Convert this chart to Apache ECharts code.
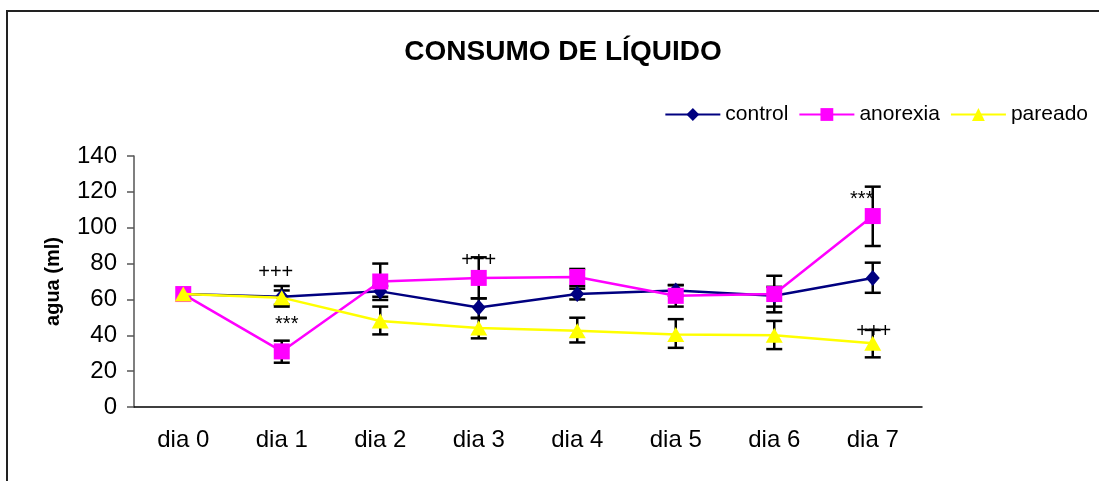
<!DOCTYPE html>
<html>
<head>
<meta charset="utf-8">
<script src="https://cdn.jsdelivr.net/npm/echarts@6/dist/echarts.min.js"></script>
<style>
  html, body { margin: 0; padding: 0; background: #fff; }
  #chart { width: 1099px; height: 481px; }
</style>
</head>
<body>
<div id="chart"></div>
<script>
// categorias (dias)
const dias = ["dia 0", "dia 1", "dia 2", "dia 3", "dia 4", "dia 5", "dia 6", "dia 7"];

// valores medios
const control = [63, 61.5, 64.5, 55.5, 63, 65, 62, 72];
const anorexia = [63, 31, 70, 72, 72.5, 62, 63, 106.5];
const pareado = [63, 61, 48, 44, 42.5, 40.5, 40, 35.5];

// barras de error [min, max]
const controlErr = [null, [56, 67.5], [61.5, 67.5], [49.8, 60.6], [60, 66], [62, 68], [56, 67], [63.7, 80.5]];
const anorexiaErr = [null, [24.7, 37], [59.7, 80], [60.6, 83.5], [67.5, 77], [56, 68], [52.8, 73.2], [89.8, 122.9]];
const pareadoErr = [null, [57, 65], [40.5, 56], [38.3, 49.5], [36, 49.8], [33, 49], [32.3, 48], [27.7, 43]];

// anotaciones de significancia [dia, valor, texto]
const anotaciones = [
  [1, 75, "+++"],
  [1, 46, "***"],
  [3, 82, "+++"],
  [7, 116, "***"],
  [7, 42, "+++"]
];
const anotDx = [-6, 5, 0, -11, 1]; // pequeño desplazamiento horizontal

const yTicks = { min: 0, max: 140, interval: 20 };

const chart = echarts.init(document.getElementById("chart"));

// serie custom para dibujar las barras de error
function errorSeries(err, name) {
  const data = [];
  err.forEach((e, i) => {
    if (e) data.push([i, e[0], e[1]]);
  });
  return {
    type: "custom",
    name: name + "-err",
    z: 1,
    silent: true,
    data: data,
    renderItem: (params, api) => {
      const lo = api.coord([api.value(0), api.value(1)]);
      const hi = api.coord([api.value(0), api.value(2)]);
      const hw = 8;
      const style = { stroke: "#000", lineWidth: 2.5 };
      return {
        type: "group",
        children: [
          { type: "line", shape: { x1: lo[0], y1: lo[1], x2: hi[0], y2: hi[1] }, style },
          { type: "line", shape: { x1: lo[0] - hw, y1: lo[1], x2: lo[0] + hw, y2: lo[1] }, style },
          { type: "line", shape: { x1: hi[0] - hw, y1: hi[1], x2: hi[0] + hw, y2: hi[1] }, style }
        ]
      };
    }
  };
}

const option = {
  animation: false,
  textStyle: { fontFamily: "Liberation Sans, Arial, sans-serif" },
  graphic: [
    {
      type: "rect",
      shape: { x: 7, y: 11, width: 1300, height: 700 },
      style: { fill: "none", stroke: "#222", lineWidth: 2 },
      silent: true,
      z: -10
    }
  ],
  title: {
    text: "CONSUMO DE LÍQUIDO",
    left: 558,
    top: 33,
    textAlign: "center",
    textStyle: { fontSize: 28, fontWeight: "bold", color: "#000", fontFamily: "Liberation Sans, Arial, sans-serif" }
  },
  legend: {
    data: ["control", "anorexia", "pareado"],
    right: 6,
    top: 99,
    itemWidth: 55,
    itemHeight: 16,
    itemGap: 10,
    textStyle: { fontSize: 21, color: "#000", fontFamily: "Liberation Sans, Arial, sans-serif" }
  },
  grid: { left: 134, right: 177, top: 156, bottom: 74 },
  xAxis: {
    type: "category",
    data: dias,
    axisLine: { lineStyle: { color: "#000", width: 1.5 } },
    axisTick: { length: 7, lineStyle: { color: "#000", width: 1.5 } },
    axisLabel: { fontSize: 24, color: "#000", margin: 21 }
  },
  yAxis: {
    type: "value",
    min: yTicks.min,
    max: yTicks.max,
    interval: yTicks.interval,
    name: "agua (ml)",
    nameLocation: "middle",
    nameRotate: 90,
    nameGap: 71,
    nameMoveOverlap: false,
    nameTextStyle: { fontSize: 20, fontWeight: "bold", color: "#000" },
    splitLine: { show: false },
    axisLine: { show: true, lineStyle: { color: "#555", width: 1.5 } },
    axisTick: { show: true, length: 7, lineStyle: { color: "#555", width: 1.5 } },
    axisLabel: { fontSize: 24, color: "#000", margin: 17 }
  },
  series: [
    errorSeries(controlErr, "control"),
    errorSeries(anorexiaErr, "anorexia"),
    errorSeries(pareadoErr, "pareado"),
    {
      name: "control",
      type: "line",
      data: control,
      z: 3,
      symbol: "diamond",
      symbolSize: [14, 16],
      lineStyle: { color: "#000080", width: 2.5 },
      itemStyle: { color: "#000080" }
    },
    {
      name: "anorexia",
      type: "line",
      data: anorexia,
      z: 4,
      symbol: "rect",
      symbolSize: 16,
      lineStyle: { color: "#FF00FF", width: 2.5 },
      itemStyle: { color: "#FF00FF" }
    },
    {
      name: "pareado",
      type: "line",
      data: pareado,
      z: 5,
      symbol: "triangle",
      symbolSize: [17, 15],
      lineStyle: { color: "#FFFF00", width: 2.5 },
      itemStyle: { color: "#FFFF00" }
    },
    {
      type: "custom",
      name: "anotaciones",
      z: 6,
      silent: true,
      data: anotaciones,
      renderItem: (params, api) => {
        const p = api.coord([api.value(0), api.value(1)]);
        return {
          type: "text",
          x: p[0] + anotDx[params.dataIndex],
          y: p[1],
          style: {
            text: anotaciones[params.dataIndex][2],
            fontSize: 20,
            fill: "#000",
            align: "center",
            verticalAlign: "middle",
            fontFamily: "Liberation Sans, Arial, sans-serif"
          }
        };
      }
    }
  ]
};

chart.setOption(option);
</script>
</body>
</html>
